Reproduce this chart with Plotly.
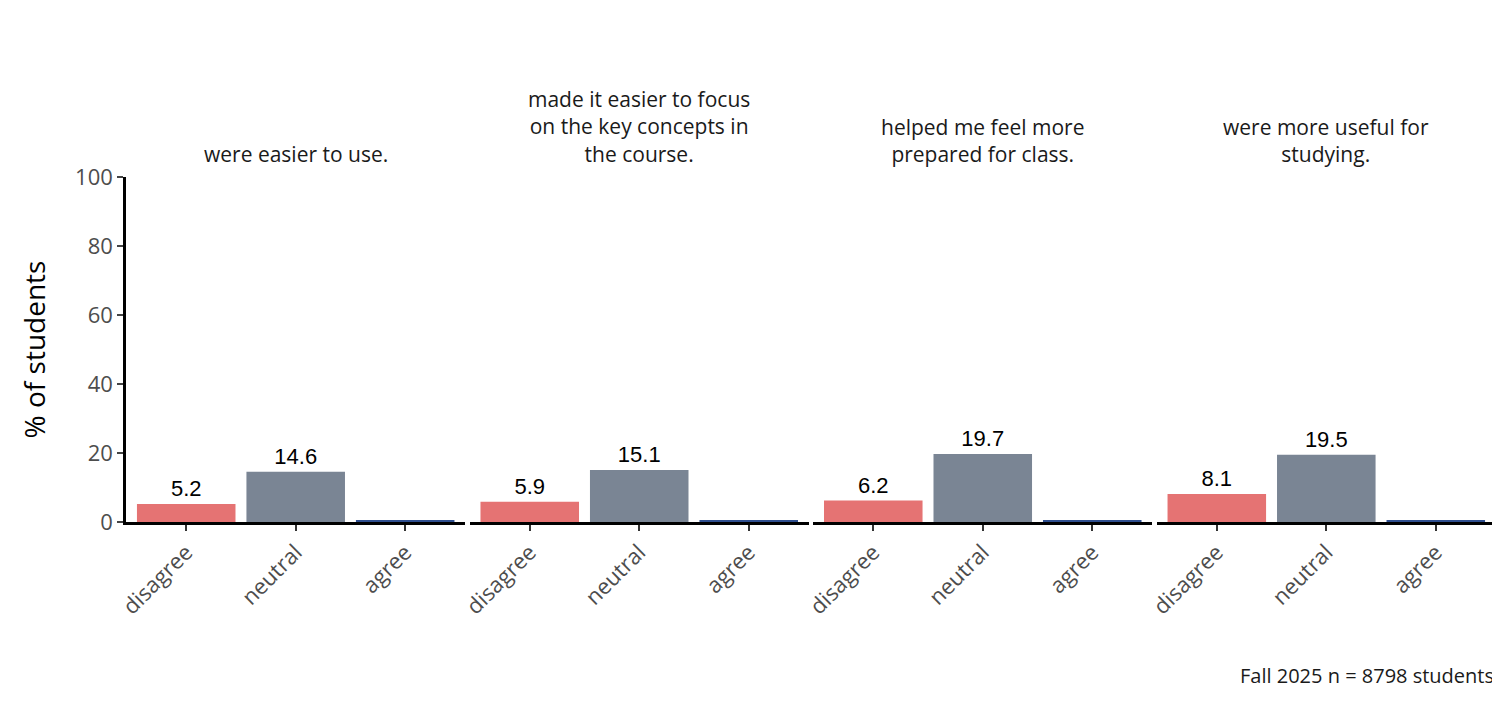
import plotly.graph_objects as go
from plotly.subplots import make_subplots

PANELS = ["were easier to use.",
          "made it easier to focus<br>on the key concepts in<br>the course.",
          "helped me feel more<br>prepared for class.",
          "were more useful for<br>studying."]
CATS = ["disagree", "neutral", "agree"]
VALUES = [[5.2, 14.6, 0.5], [5.9, 15.1, 0.6], [6.2, 19.7, 0.5], [8.1, 19.5, 0.5]]
LABELS = [["5.2", "14.6", ""], ["5.9", "15.1", ""], ["6.2", "19.7", ""], ["8.1", "19.5", ""]]
COLORS = ["#e57373", "#7a8594", "#2f4f8f"]

fig = make_subplots(rows=1, cols=4, horizontal_spacing=0.003, shared_yaxes=True)
for i, (vals, labs) in enumerate(zip(VALUES, LABELS)):
    fig.add_trace(go.Bar(x=CATS, y=vals, text=labs, textposition="outside",
                         textfont=dict(family="Liberation Sans", size=22, color="black"),
                         marker=dict(color=COLORS, line_width=0), width=0.9,
                         cliponaxis=False, showlegend=False), row=1, col=i + 1)
    fig.update_xaxes(showline=True, linecolor="black", linewidth=2.5, ticks="outside",
                     tickwidth=2, ticklen=6, tickcolor="#333", tickangle=-45,
                     tickfont=dict(family="Open Sans", size=22, color="#4d4d4d"),
                     showgrid=False, range=[-0.55, 2.55], row=1, col=i + 1)
    fig.update_yaxes(range=[0, 100], showgrid=False, zeroline=False, row=1, col=i + 1)

fig.update_yaxes(showline=True, linecolor="black", linewidth=2.5, ticks="outside", tickwidth=2,
                 ticklen=6, tickvals=[0, 20, 40, 60, 80, 100],
                 tickfont=dict(family="Open Sans", size=22, color="#4d4d4d"),
                 title=dict(text="% of students", standoff=22,
                            font=dict(family="Open Sans", size=28, color="black")),
                 row=1, col=1)

for i, t in enumerate(PANELS):
    dom = fig.layout[f"xaxis{'' if i == 0 else i + 1}"].domain
    fig.add_annotation(text=t, x=(dom[0] + dom[1]) / 2, y=1.02, xref="paper", yref="paper",
                       xanchor="center", yanchor="bottom", showarrow=False,
                       font=dict(family="Open Sans", size=21, color="#1a1a1a"))

fig.add_annotation(text="Fall 2025 n = 8798 students", x=1, y=-0.4, xref="paper", yref="paper",
                   xanchor="right", yanchor="top", showarrow=False,
                   font=dict(family="Open Sans", size=20, color="#1a1a1a"))

fig.update_layout(width=1500, height=707, plot_bgcolor="white", paper_bgcolor="white",
                  margin=dict(l=118, r=12, t=169, b=193), bargap=0.1)
fig.write_html("out.html")
